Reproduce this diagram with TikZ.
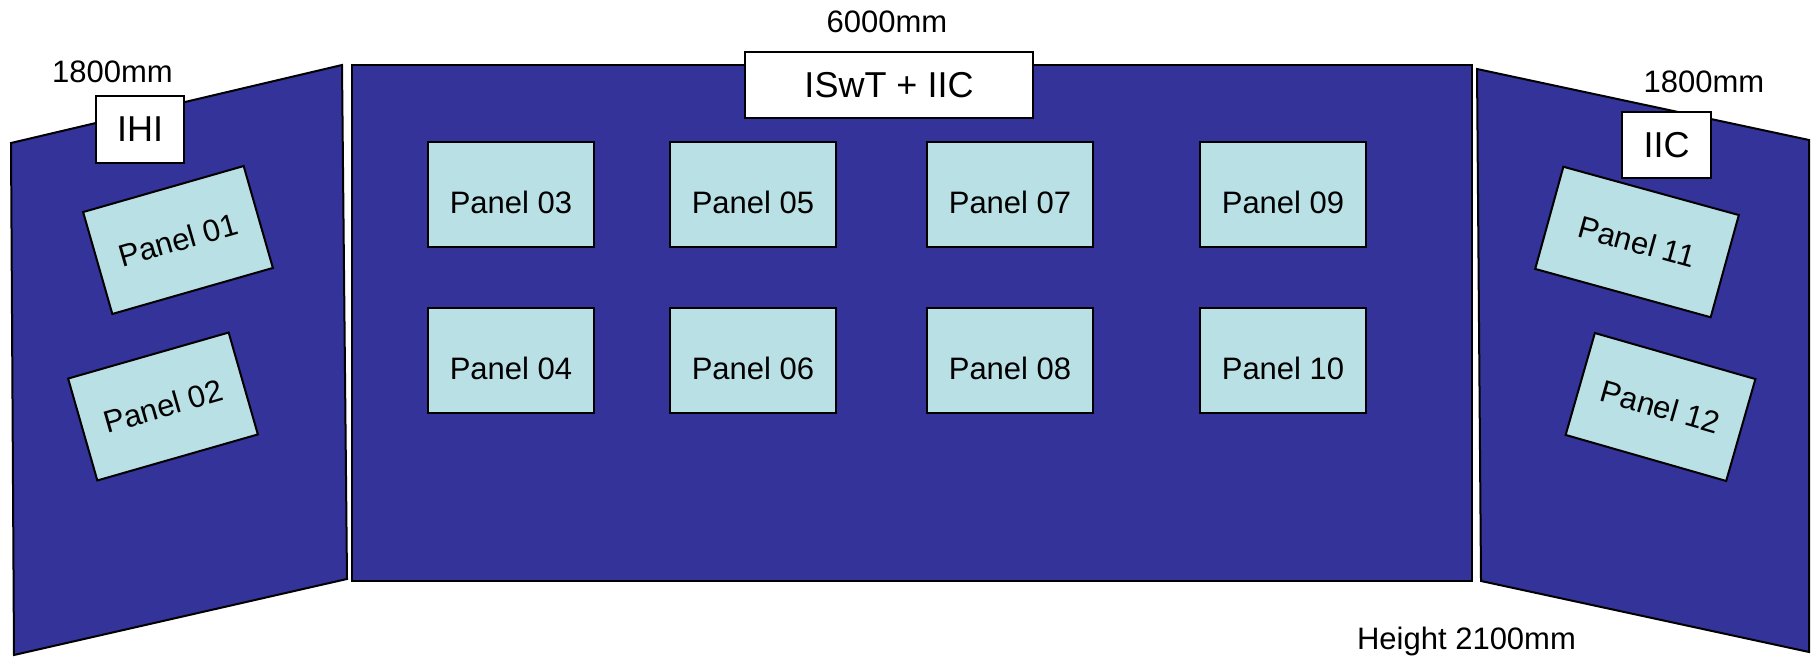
\documentclass[tikz,border=0pt]{standalone}
\usepackage{fontspec}
\setmainfont{Liberation Sans}
\usetikzlibrary{positioning}
\definecolor{wallblue}{RGB}{51,51,153}
\definecolor{panelcyan}{RGB}{185,224,228}

\begin{document}
\begin{tikzpicture}[x=1pt, y=1pt,
    wall/.style={draw=black, line width=2pt, fill=wallblue},
    tag/.style={draw, line width=1.5pt, fill=white, inner sep=0pt, font=\fontsize{36}{43}\selectfont},
    pnl/.style={draw, line width=2pt, fill=panelcyan, minimum width=166pt, minimum height=105pt,
                inner sep=0pt, text height=39pt, text depth=0pt, font=\fontsize{31}{37}\selectfont},
    tpnl/.style={pnl, minimum width=167pt, minimum height=106pt, text height=22pt},
    dim/.style={anchor=base, inner sep=0pt, font=\fontsize{31}{37}\selectfont}]
  \useasboundingbox (0,0) rectangle (1811,656);
  % walls
  \draw[wall] (11,513) -- (342,591) -- (347,77) -- (14,1) -- cycle;
  \draw[wall] (352,75) rectangle (1472,591);
  \draw[wall] (1477,587) -- (1809,516) -- (1809,4) -- (1481,75) -- cycle;
  % name tags
  \node[tag, minimum width=88pt, minimum height=67pt] (ihi) at (140,526.5) {IHI};
  \node[tag, minimum width=288pt, minimum height=66pt] (iswt) at (889,571) {ISwT + IIC};
  \node[tag, minimum width=89pt, minimum height=66pt] (iic) at (1666.5,511) {IIC};
  % side panels
  \node[tpnl, rotate=16] (p01) at (178,416) {Panel 01};
  \node[tpnl, rotate=16] (p02) at (163,249.5) {Panel 02};
  \node[tpnl, rotate=-15.4, minimum width=182pt] (p11) at (1637,414) {Panel 11};
  \node[tpnl, rotate=-16] (p12) at (1660.5,249) {Panel 12};
  % centre panels
  \foreach \x/\a/\b in {511/03/04, 753/05/06, 1010/07/08, 1283/09/10} {
    \node[pnl] (p\a) at (\x,461.5) {Panel \a};
    \node[pnl, below=59pt of p\a] (p\b) {Panel \b};
  }
  % sizes
  \node[dim] (lw) at (112.5,573) {1800mm};
  \node[dim] (cw) at (887,623) {6000mm};
  \node[dim] (rw) at (1704,563) {1800mm};
  \node[dim] (ht) at (1466.5,6.5) {Height 2100mm};
\end{tikzpicture}
\end{document}
